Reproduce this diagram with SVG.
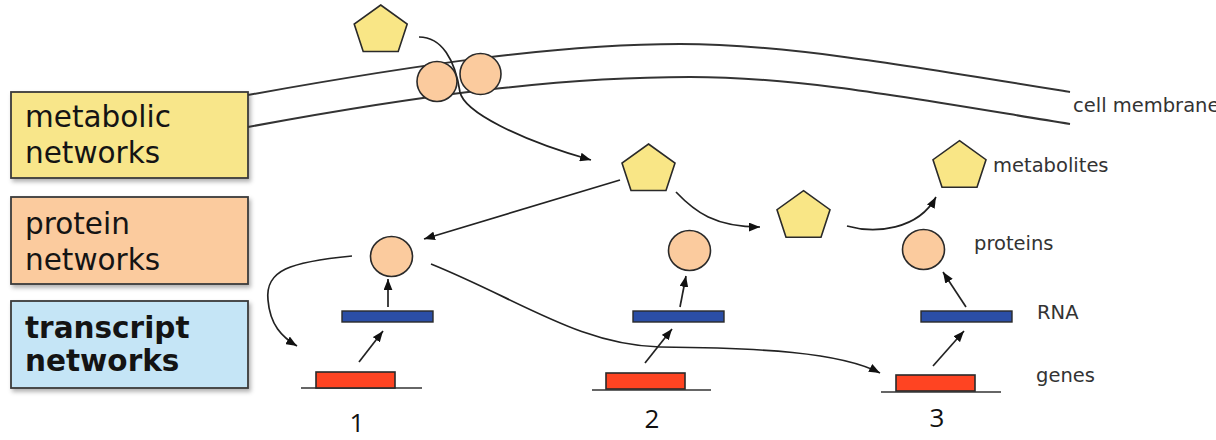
<svg xmlns="http://www.w3.org/2000/svg" width="1216" height="440" viewBox="0 0 1216 440">
  <defs>
    <style>
      .box{stroke:#3a3a3a;stroke-width:1.8}
      .boxtxt{font-family:"DejaVu Sans","Verdana",sans-serif;font-size:29.5px;fill:#141414}
      .bold{font-weight:bold}
      .lbl{font-family:"DejaVu Sans","Verdana",sans-serif;font-size:19.5px;fill:#333}
      .num{font-family:"Open Sans","Liberation Sans",sans-serif;font-size:26px;fill:#111;text-anchor:middle}
      .pent{fill:#F9E686;stroke:#2a2a2a;stroke-width:1.6}
      .prot{fill:#FBCB9E;stroke:#2a2a2a;stroke-width:1.6}
      .gene{fill:#FF4422;stroke:#2a2a2a;stroke-width:1.6}
      .rna{fill:#2B4EA6;stroke:#2a2a2a;stroke-width:1.4}
      .base{stroke:#333;stroke-width:1.6;fill:none}
      .mem{stroke:#333;stroke-width:2;fill:none}
      .con{stroke:#222;stroke-width:1.7;fill:none;marker-end:url(#ah)}
      .line{stroke:#222;stroke-width:1.7;fill:none}
    </style>
    <marker id="ah" viewBox="0 0 10 8" refX="10" refY="4" markerWidth="11" markerHeight="9" markerUnits="userSpaceOnUse" orient="auto">
      <path d="M0,0 L10,4 L0,8 z" fill="#111"/>
    </marker>
    <filter id="sh" x="-10%" y="-10%" width="125%" height="130%">
      <feDropShadow dx="2" dy="3" stdDeviation="2" flood-color="#000" flood-opacity="0.3"/>
    </filter>
    <polygon id="pg" points="0,-25.5 26.5,-6.5 17.5,21 -17.5,21 -26.5,-6.5"/>
  </defs>

  <rect width="1216" height="440" fill="#fff"/>

  <!-- left legend boxes -->
  <g id="metabolic-networks">
    <rect class="box" x="11" y="92" width="237" height="86" fill="#F8E68A" filter="url(#sh)"/>
    <text class="boxtxt" x="25" y="127">metabolic</text>
    <text class="boxtxt" x="25" y="163">networks</text>
  </g>
  <g id="protein-networks">
    <rect class="box" x="11" y="197" width="237" height="87" fill="#FBCB9E" filter="url(#sh)"/>
    <text class="boxtxt" x="25" y="234">protein</text>
    <text class="boxtxt" x="25" y="270">networks</text>
  </g>
  <g id="transcript-networks">
    <rect class="box" x="11" y="301" width="237" height="87" fill="#C5E5F6" filter="url(#sh)"/>
    <text class="boxtxt bold" x="25" y="338">transcript</text>
    <text class="boxtxt bold" x="25" y="371">networks</text>
  </g>

  <!-- cell membrane -->
  <g id="cell-membrane">
    <path class="mem" d="M248,95 C420,64 560,44 680,44 C780,44 900,64 1070,92"/>
    <path class="mem" d="M248,127 C420,95 560,77 690,77 C800,77 910,98 1070,124"/>
    <text class="lbl" x="1073" y="112">cell membrane</text>
  </g>

  <!-- connectors -->
  <g id="connectors">
    <path class="con" d="M419,37 C442,37 455,60 460,92 C464,112 520,140 591,160"/>
    <path class="con" d="M620,180 L424,239"/>
    <path class="con" d="M676,192 C695,212 715,227 760,227"/>
    <path class="con" d="M847,226 C875,234 918,230 936,197"/>
    <path class="con" d="M352,256 C290,262 265,270 268,300 C270,325 282,337 297,346"/>
    <path class="con" d="M431,264 C520,300 580,345 660,347 C760,348 840,352 880,373"/>
    <path class="con" d="M359,362 L383,331"/>
    <path class="con" d="M388,307 L388,279"/>
    <path class="con" d="M645,363 L672,329"/>
    <path class="con" d="M680,307 L686,276"/>
    <path class="con" d="M933,366 L964,331"/>
    <path class="con" d="M966,307 L943,272"/>
  </g>

  <!-- transporter proteins in membrane -->
  <g id="transporter">
    <circle class="prot" cx="437" cy="81.5" r="20"/>
    <circle class="prot" cx="480.5" cy="74" r="20.5"/>
  </g>

  <!-- metabolites -->
  <g id="metabolite-outside"><use href="#pg" class="pent" x="380.7" y="30.5"/></g>
  <g id="metabolite-a"><use href="#pg" class="pent" x="648.5" y="169.5"/></g>
  <g id="metabolite-b"><use href="#pg" class="pent" x="803.5" y="216.2"/></g>
  <g id="metabolite-c">
    <use href="#pg" class="pent" x="959.5" y="166.2"/>
    <text class="lbl" x="993" y="172">metabolites</text>
  </g>

  <!-- gene columns -->
  <g id="unit-1">
    <ellipse class="prot" cx="391.5" cy="256.5" rx="21" ry="20"/>
    <rect class="rna" x="342" y="311" width="91" height="11"/>
    <line class="base" x1="301" y1="388" x2="422" y2="388"/>
    <rect class="gene" x="316" y="372" width="79" height="16"/>
    <text class="num" x="357" y="432">1</text>
  </g>
  <g id="unit-2">
    <ellipse class="prot" cx="689.5" cy="250.5" rx="21" ry="20"/>
    <rect class="rna" x="633" y="311" width="91" height="11"/>
    <line class="base" x1="592" y1="390" x2="711" y2="390"/>
    <rect class="gene" x="606" y="373" width="79" height="16"/>
    <text class="num" x="652" y="428">2</text>
  </g>
  <g id="unit-3">
    <ellipse class="prot" cx="923.5" cy="249.5" rx="21" ry="20"/>
    <rect class="rna" x="921" y="311" width="91" height="11"/>
    <line class="base" x1="881" y1="392" x2="1001" y2="392"/>
    <rect class="gene" x="896" y="375" width="79" height="16"/>
    <text class="num" x="937" y="427">3</text>
  </g>

  <g id="level-labels">
    <text class="lbl" x="974" y="250">proteins</text>
    <text class="lbl" x="1037" y="319">RNA</text>
    <text class="lbl" x="1036" y="382">genes</text>
  </g>
</svg>
